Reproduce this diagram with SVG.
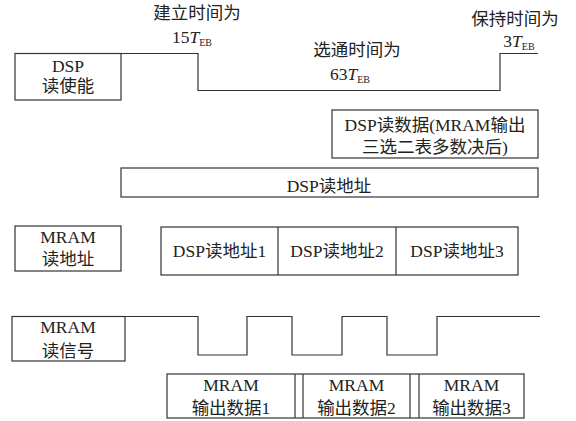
<svg xmlns="http://www.w3.org/2000/svg" width="576" height="421" viewBox="0 0 576 421">
<style>
.b{fill:none;stroke:#333;stroke-width:1.2}
.w{fill:none;stroke:#333;stroke-width:1.2}
text{font-family:"Liberation Serif","Noto Sans CJK SC",serif;font-size:17.5px;fill:#222;text-anchor:middle}
.s{font-size:10px}
.i{font-style:italic}
</style>
<rect width="576" height="421" fill="#fff"/>
<g id="labels">
<text x="197" y="19">建立时间为</text>
<text x="192" y="43">15<tspan class="i">T</tspan><tspan class="s" dy="3">EB</tspan></text>
<text x="357" y="56">选通时间为</text>
<text x="350" y="80">63<tspan class="i">T</tspan><tspan class="s" dy="3">EB</tspan></text>
<text x="515" y="25">保持时间为</text>
<text x="519" y="47">3<tspan class="i">T</tspan><tspan class="s" dy="3">EB</tspan></text>
</g>
<g id="connectors">
<path class="w" d="M121,53.5 H198 V90.5 H500 V53.5 H538"/>
<path class="w" d="M125,316.5 H198 V355 H247 V316.5 H292 V355 H342 V316.5 H387 V355 H437 V316.5 H540"/>
</g>
<g id="dsp-read-enable">
<rect class="b" x="15" y="53.5" width="106" height="46.5"/>
<text x="68" y="72">DSP</text>
<text x="68" y="92">读使能</text>
</g>
<g id="dsp-read-data">
<rect class="b" x="332" y="110" width="206" height="48"/>
<text x="435" y="131">DSP读数据(MRAM输出</text>
<text x="435" y="153">三选二表多数决后)</text>
</g>
<g id="dsp-read-addr">
<rect class="b" x="121" y="168" width="417" height="29"/>
<text x="329" y="192">DSP读地址</text>
</g>
<g id="mram-read-addr">
<rect class="b" x="15" y="226" width="106" height="45"/>
<text x="68" y="243">MRAM</text>
<text x="68" y="265">读地址</text>
</g>
<g id="dsp-addr-123">
<rect class="b" x="161" y="227" width="357" height="48"/>
<line class="b" x1="278" y1="227" x2="278" y2="275"/>
<line class="b" x1="396" y1="227" x2="396" y2="275"/>
<text x="219.5" y="257">DSP读地址1</text>
<text x="337" y="257">DSP读地址2</text>
<text x="457" y="257">DSP读地址3</text>
</g>
<g id="mram-read-signal">
<rect class="b" x="12" y="316.5" width="113" height="44.5"/>
<text x="68" y="333">MRAM</text>
<text x="68" y="357">读信号</text>
</g>
<g id="mram-out-data">
<rect class="b" x="167" y="374" width="357" height="44"/>
<line class="b" x1="295" y1="374" x2="295" y2="418"/>
<line class="b" x1="303" y1="374" x2="303" y2="418"/>
<line class="b" x1="410" y1="374" x2="410" y2="418"/>
<line class="b" x1="419" y1="374" x2="419" y2="418"/>
<text x="231" y="391">MRAM</text>
<text x="231" y="414">输出数据1</text>
<text x="356.5" y="391">MRAM</text>
<text x="356.5" y="414">输出数据2</text>
<text x="471.5" y="391">MRAM</text>
<text x="471.5" y="414">输出数据3</text>
</g>
</svg>
